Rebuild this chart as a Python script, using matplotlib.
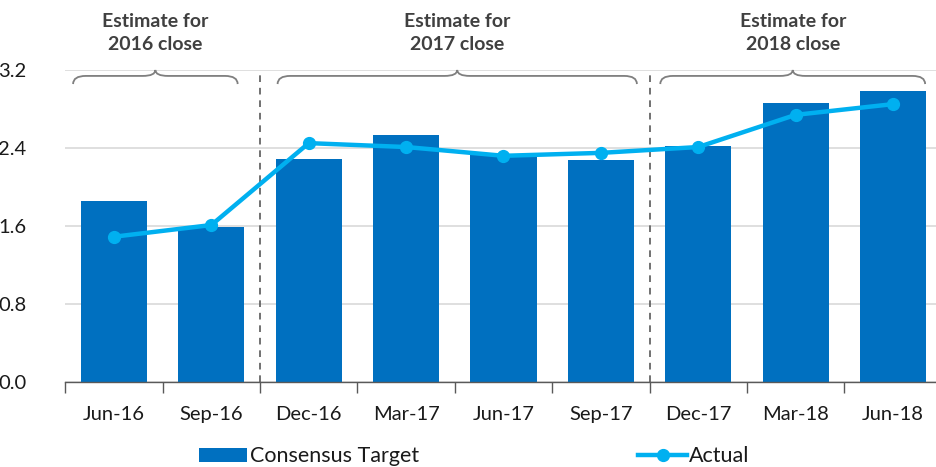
import matplotlib
matplotlib.use("Agg")
import matplotlib.pyplot as plt
from matplotlib.path import Path
from matplotlib.patches import PathPatch
from matplotlib.lines import Line2D
from matplotlib.patches import Patch
import matplotlib.transforms as mtransforms
import numpy as np

plt.rcParams['font.family'] = ['Lato', 'DejaVu Sans']

quarters = ["Jun-16", "Sep-16", "Dec-16", "Mar-17", "Jun-17", "Sep-17",
            "Dec-17", "Mar-18", "Jun-18"]
consensus_target = [1.86, 1.59, 2.29, 2.53, 2.34, 2.28, 2.42, 2.86, 2.98]
actual = [1.49, 1.61, 2.45, 2.41, 2.32, 2.35, 2.41, 2.74, 2.85]
y_ticks = [0.0, 0.8, 1.6, 2.4, 3.2]
group_labels = ["Estimate for\n2016 close", "Estimate for\n2017 close",
                "Estimate for\n2018 close"]
group_spans = [(-0.42, 1.27), (1.68, 5.37), (5.61, 8.33)]
group_dividers = [1.5, 5.5]

BAR_BLUE = "#0070C0"
LINE_BLUE = "#00B0F0"
TEXT = "#1a1a1a"

fig = plt.figure(figsize=(9.37, 4.67), dpi=100)
ax = fig.add_axes([65.3 / 937, 1 - 382 / 467, (941.7 - 65.3) / 937, 312 / 467])

x = np.arange(len(quarters))
ax.bar(x, consensus_target, width=0.68, color=BAR_BLUE, zorder=2,
       label="Consensus Target")
ax.plot(x, actual, color=LINE_BLUE, lw=3.2, marker="o", markersize=8.5,
        zorder=4, label="Actual", solid_capstyle="round")

ax.set_xlim(-0.5, len(quarters) - 0.5)
ax.set_ylim(0, 3.2)
ax.set_yticks(y_ticks)
ax.set_yticklabels([f"{v:.1f}" for v in y_ticks], fontsize=14.5, color=TEXT)
ax.yaxis.grid(True, color="#d9d9d9", lw=1.2, zorder=0)
ax.set_axisbelow(True)
ax.tick_params(axis="y", length=0, pad=28)

ax.set_xticks(np.arange(-0.5, len(quarters), 1.0))
ax.set_xticklabels([])
ax.set_xticks(x, minor=True)
ax.set_xticklabels(quarters, minor=True, fontsize=14.5, color=TEXT)
ax.tick_params(axis="x", which="major", length=8, width=1, color="#595959",
               direction="out")
ax.tick_params(axis="x", which="minor", length=0, pad=17)

for side in ("left", "right", "top"):
    ax.spines[side].set_visible(False)
ax.spines["bottom"].set_color("#595959")
ax.spines["bottom"].set_linewidth(1)

for d in group_dividers:
    ax.axvline(d, ymin=0, ymax=1, color="#595959", lw=1.2,
               linestyle=(0, (4, 3.5)), zorder=3)

# curly braces above each estimate group
trans = mtransforms.blended_transform_factory(ax.transData, ax.transAxes)
y_tip, y_flat, y_end = 1.0, 0.981, 0.955
r = 0.13
for (x0, x1), label in zip(group_spans, group_labels):
    xm = (x0 + x1) / 2
    verts = [
        (x0, y_end),
        (x0, y_flat), (x0 + r, y_flat),
        (x0 + r, y_flat),
        (xm - r, y_flat),
        (xm, y_flat), (xm, y_tip),
        (xm, y_flat), (xm + r, y_flat),
        (x1 - r, y_flat),
        (x1, y_flat), (x1, y_end),
    ]
    codes = [Path.MOVETO,
             Path.CURVE3, Path.CURVE3,
             Path.LINETO,
             Path.LINETO,
             Path.CURVE3, Path.CURVE3,
             Path.CURVE3, Path.CURVE3,
             Path.LINETO,
             Path.CURVE3, Path.CURVE3]
    brace = PathPatch(Path(verts, codes), transform=trans, fill=False,
                      edgecolor="#7f7f7f", lw=1.3, clip_on=False, zorder=5)
    ax.add_patch(brace)
    ax.text(xm, 1.118, label, transform=trans, ha="center", va="center",
            fontsize=14, fontweight="bold", color="#404040",
            linespacing=1.4)

handles = [Patch(facecolor=BAR_BLUE, edgecolor="none"),
           Line2D([], [], color=LINE_BLUE, lw=3.2, marker="o", markersize=8.5)]
fig.legend(handles, ["Consensus Target", "Actual"], loc="center",
           bbox_to_anchor=(0.506, 0.023), ncol=2, frameon=False,
           fontsize=15.5, handlelength=2.25, handleheight=0.6,
           handletextpad=0.1, columnspacing=10.2, labelcolor=TEXT)

fig.savefig("out.png", dpi=100)
